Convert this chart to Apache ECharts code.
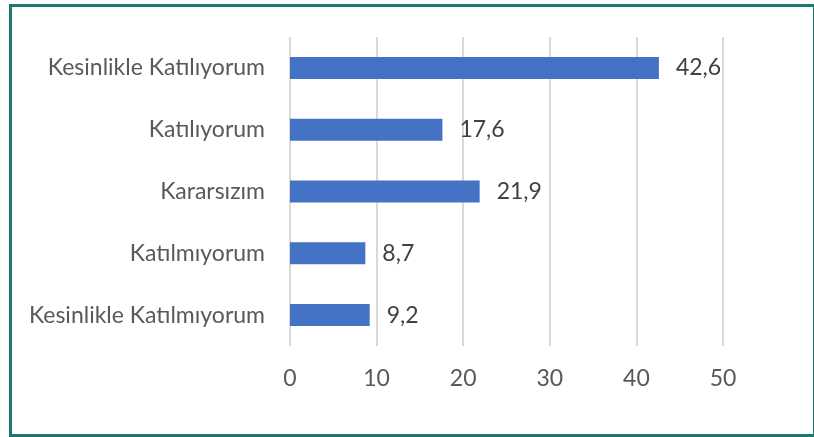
<!DOCTYPE html>
<html>
<head>
<meta charset="utf-8">
<script src="https://cdn.jsdelivr.net/npm/echarts@6/dist/echarts.min.js"></script>
<style>
  html, body { margin: 0; padding: 0; background: #fff; }
  #frame { position: absolute; left: 9px; top: 4px; width: 801px; height: 427px; border: 3px solid #1b7a70; box-sizing: content-box; }
  #chart { position: absolute; left: 0; top: 0; width: 814px; height: 437px; }
</style>
</head>
<body>
<div id="frame"></div>
<div id="chart"></div>
<script>
var categories = ['Kesinlikle Katılmıyorum', 'Katılmıyorum', 'Kararsızım', 'Katılıyorum', 'Kesinlikle Katılıyorum'];
var values = [9.2, 8.7, 21.9, 17.6, 42.6];
var ticks = [0, 10, 20, 30, 40, 50];

var chart = echarts.init(document.getElementById('chart'));
var option = {
  animation: false,
  grid: { left: 290, right: 91, top: 37, bottom: 91, containLabel: false },
  xAxis: {
    type: 'value',
    min: ticks[0],
    max: ticks[ticks.length - 1],
    interval: 10,
    axisLine: { show: false },
    axisTick: { show: false },
    splitLine: { lineStyle: { color: '#d9d9d9', width: 2 } },
    axisLabel: { color: '#595959', fontSize: 23, fontFamily: 'Lato', margin: 21 }
  },
  yAxis: {
    type: 'category',
    data: categories,
    axisLine: { show: false },
    axisTick: { show: false },
    axisLabel: { color: '#595959', fontSize: 23, fontFamily: 'Lato', margin: 25 }
  },
  series: [{
    type: 'bar',
    data: values,
    barWidth: 22,
    itemStyle: { color: '#4472c4' },
    label: {
      show: true,
      position: 'right',
      distance: 17,
      color: '#404040',
      fontSize: 23,
      fontFamily: 'Lato',
      formatter: function (p) { return String(p.value).replace('.', ','); }
    }
  }]
};
chart.setOption(option);
</script>
</body>
</html>
